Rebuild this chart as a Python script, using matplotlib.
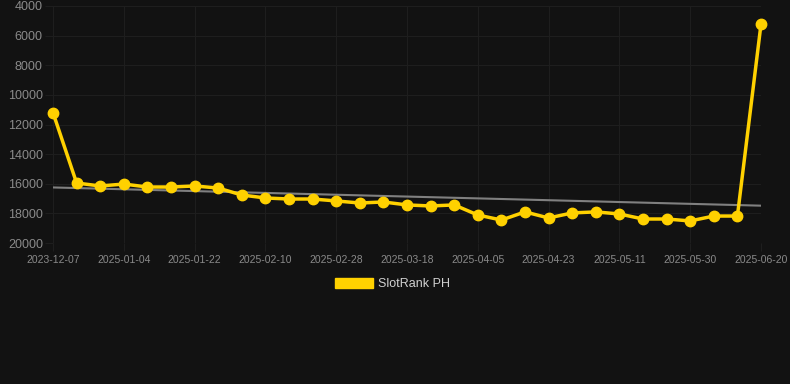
import numpy as np
import matplotlib.pyplot as plt
from matplotlib.patches import Patch

plt.rcParams["font.family"] = ["Liberation Sans", "DejaVu Sans"]

dates = ["2023-12-07", "2025-01-04", "2025-01-22", "2025-02-10", "2025-02-28",
         "2025-03-18", "2025-04-05", "2025-04-23", "2025-05-11", "2025-05-30",
         "2025-06-20"]
ranks = [11200, 15950, 16150, 16020, 16220, 16220, 16150, 16290, 16760, 16960,
         17030, 17030, 17160, 17300, 17230, 17430, 17500, 17430, 18110, 18450,
         17900, 18310, 17970, 17900, 18040, 18380, 18380, 18510, 18180, 18180,
         5230]
trend = [16250, 17480]
yticks = [4000, 6000, 8000, 10000, 12000, 14000, 16000, 18000, 20000]

bg = "#121212"
grid = "#1e1e1e"
gold = "#FFD100"
W, H = 790, 384

fig = plt.figure(figsize=(W / 100, H / 100), dpi=100, facecolor=bg)
ax = fig.add_axes([53 / W, 1 - 243 / H, (761 - 53) / W, (243 - 6) / H])
ax.set_facecolor(bg)

x = np.arange(len(ranks))
ax.plot([0, len(ranks) - 1], trend, color="#808080", lw=1.5, zorder=2)
ax.plot(x, ranks, color=gold, lw=2.5, marker="o", ms=7.5, zorder=3, clip_on=False)

ax.set_xlim(0, len(ranks) - 1)
ax.set_ylim(20000, 4000)
ax.set_yticks(yticks)
ax.set_yticklabels([str(v) for v in yticks])
ax.set_xticks(np.arange(0, len(ranks), 3))
ax.set_xticklabels(dates)
ax.grid(True, color=grid, lw=0.8)
for s in ax.spines.values():
    s.set_visible(False)
ax.tick_params(axis="y", length=5.8, width=0.8, color=grid, pad=1.5,
               labelsize=9, labelcolor="#8a8a8a")
ax.tick_params(axis="x", length=5.8, width=0.8, color=grid, pad=2.5,
               labelsize=7.5, labelcolor="#8a8a8a")

fig.legend(handles=[Patch(color=gold)], labels=["SlotRank PH"], loc="center",
           bbox_to_anchor=(0.497, 1 - 284 / H), frameon=False, fontsize=9,
           labelcolor="#d0d0d0", handlelength=3.0, handleheight=0.9,
           handletextpad=0.45)

fig.savefig("out.png", dpi=100, facecolor=bg)
